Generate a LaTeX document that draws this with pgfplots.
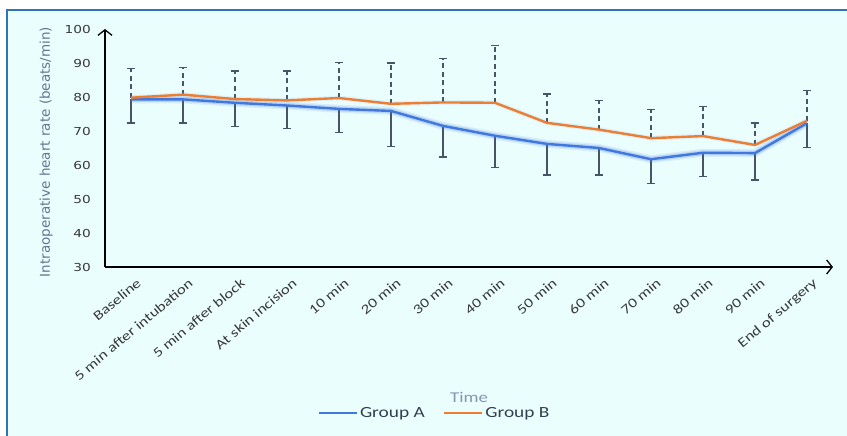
\documentclass[border=0pt]{standalone}
\usepackage{pgfplots}
\pgfplotsset{compat=1.18}
\usepackage{pgfplotstable}
\usepackage{fontspec}
\setmainfont[FakeStretch=1.25]{Carlito}
\newfontfamily\verd[FakeStretch=1.25]{DejaVu Sans}
\newfontfamily\verdn{DejaVu Sans}
\usetikzlibrary{arrows.meta}
\definecolor{bgc}{RGB}{235,254,254}
\definecolor{bordc}{RGB}{46,117,182}
\definecolor{gA}{RGB}{64,120,224}
\definecolor{gB}{RGB}{237,125,49}
\definecolor{errc}{RGB}{72,84,104}
\definecolor{ylab}{RGB}{100,116,145}
\definecolor{timec}{RGB}{132,151,176}
\definecolor{tickc}{RGB}{56,56,56}
\definecolor{legc}{RGB}{51,63,80}

\pgfplotstableread{
x A Aerr B Berr
0 79.3 6.9 79.8 8.6
1 79.3 6.9 80.7 8.0
2 78.3 6.9 79.4 8.2
3 77.5 6.8 79.0 8.6
4 76.5 7.0 79.7 10.5
5 75.9 10.4 78.0 12.0
6 71.5 9.1 78.4 12.9
7 68.6 9.4 78.3 16.9
8 66.2 9.1 72.4 8.5
9 65.0 7.9 70.4 8.5
10 61.7 7.1 67.9 8.5
11 63.6 7.0 68.5 8.7
12 63.5 7.9 65.9 6.5
13 72.3 7.1 73.0 8.9
}\data

\begin{document}
\begin{tikzpicture}
\useasboundingbox (0pt,0pt) rectangle (847pt,436pt);
\clip (0pt,0pt) rectangle (847pt,436pt);
\fill[white] (0pt,0pt) rectangle (847pt,436pt);
\filldraw[fill=bgc, draw=bordc, line width=2pt] (7pt,-20pt) rectangle (870pt,426pt);
\begin{axis}[
  at={(105pt,169pt)}, anchor=south west,
  scale only axis, width=728pt, height=238pt,
  xmin=-0.5, xmax=13.5, ymin=30, ymax=100,
  axis lines=left,
  axis line style={line width=1.3pt, -{Straight Barb[length=5.5pt,width=14pt]}},
  major tick length=0pt,
  xtick={0,...,13},
  xticklabels={Baseline,5 min after intubation,5 min after block,At skin incision,10 min,20 min,30 min,40 min,50 min,60 min,70 min,80 min,90 min,End of surgery},
  ytick={30,40,...,100},
  /pgf/number format/assume math mode=true,
  yticklabel style={font=\verd\fontsize{11}{11}\selectfont, color=tickc, anchor=east, inner sep=0pt, xshift=-14pt},
  xticklabel style={font=\fontsize{13.5}{14}\selectfont, color=tickc, rotate=40, anchor=north east, inner sep=0pt, xshift=-3pt, yshift=-11pt},
  xlabel={Time},
  xlabel style={at={(axis description cs:0.5,-0.546)}, anchor=center, font=\fontsize{15}{15}\selectfont, color=timec},
  ylabel={Intraoperative heart rate (beats/min)},
  ylabel style={at={(axis description cs:-0.081,0.483)}, anchor=center, font=\verdn\fontsize{13.5}{13.5}\selectfont, color=ylab},
  legend style={at={(axis description cs:0.4526,-0.613)}, anchor=center, draw=none, fill=none, legend columns=2, font=\fontsize{15.5}{16}\selectfont\color{legc}, /tikz/every even column/.append style={column sep=16pt}, inner sep=0pt},
  legend image code/.code={\draw[#1, line width=2.5pt] (0pt,0pt) -- (38pt,0pt);},
  clip=false,
]
% error bars group A (lower)
\addplot[draw=none, forget plot, error bars/.cd, y dir=minus, y explicit,
  error bar style={errc, line width=1.4pt},
  error mark options={errc, rotate=90, mark size=4pt, line width=1.4pt}]
  table[x=x, y=A, y error=Aerr]{\data};
% error bars group B (upper, dashed)
\addplot[draw=none, forget plot, error bars/.cd, y dir=plus, y explicit,
  error bar style={errc, line width=1.4pt, dash pattern=on 5pt off 3.5pt},
  error mark options={errc, rotate=90, mark size=4pt, line width=1.4pt, solid}]
  table[x=x, y=B, y error=Berr]{\data};
% glow
\addplot[gA, line width=8pt, opacity=0.12, forget plot, line join=round] table[x=x, y=A]{\data};
\addplot[gA, line width=5pt, opacity=0.2, forget plot, line join=round] table[x=x, y=A]{\data};
\addplot[gA, line width=5pt, opacity=0.08, forget plot, line join=round] table[x=x, y=B]{\data};
\addplot[gA, line width=2.4pt, mark=none] table[x=x, y=A]{\data};
\addlegendentry{Group A}
\addplot[gB, line width=2.4pt, mark=none] table[x=x, y=B]{\data};
\addlegendentry{Group B}
\end{axis}
\end{tikzpicture}
\end{document}
